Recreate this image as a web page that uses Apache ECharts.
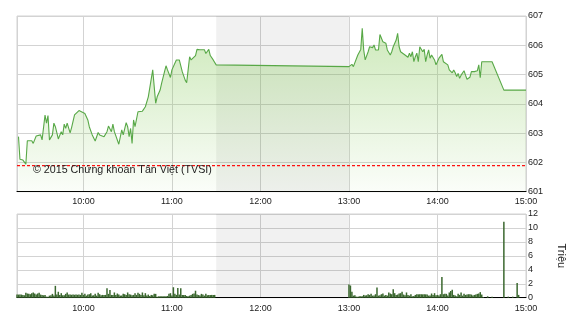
<!DOCTYPE html>
<html><head><meta charset="utf-8">
<script src="https://cdn.jsdelivr.net/npm/echarts@6/dist/echarts.min.js"></script>
<style>html,body{margin:0;padding:0;background:#fff}#c{width:570px;height:320px}</style>
</head><body><div id="c"></div>
<script>
// ---- data ----
const priceTimes = [
"09:16","09:17","09:19","09:21","09:22","09:25","09:26","09:28","09:31","09:32",
"09:33","09:34","09:35","09:36","09:37","09:38","09:39","09:40","09:41","09:43",
"09:44","09:45","09:46","09:47","09:48","09:49","09:51","09:52","09:54","09:57",
"09:59","10:01","10:03","10:04","10:06","10:07","10:08","10:10","10:11","10:14",
"10:16","10:17","10:19","10:20","10:21","10:24","10:26","10:27","10:29","10:30",
"10:31","10:32","10:33","10:34","10:35","10:37","10:38","10:40","10:42","10:44",
"10:45","10:47","10:49","10:50","10:52","10:53","10:55","10:56","10:57","10:59",
"11:00","11:01","11:03","11:05","11:07","11:08","11:09","11:10","11:11","11:12",
"11:13","11:14","11:16","11:17","11:19","11:20","11:22","11:23","11:25","11:26",
"11:28","11:30",
"13:00","13:02","13:03","13:04","13:06","13:08","13:09","13:10","13:11","13:13",
"13:14","13:16","13:17","13:18","13:20","13:21","13:23","13:24","13:25","13:26",
"13:28","13:29","13:30","13:32","13:33","13:34","13:35","13:36","13:38","13:39",
"13:40","13:41","13:42","13:43","13:44","13:45","13:46","13:47","13:48","13:50",
"13:51","13:52","13:53","13:54","13:55","13:56","13:58","13:59","14:01","14:03",
"14:04","14:05","14:07","14:08","14:09","14:10","14:11","14:12","14:13","14:14",
"14:15","14:16","14:18","14:19","14:20","14:21","14:22","14:23","14:25","14:27",
"14:28","14:29","14:30","14:37","14:45","15:00"
];
const priceValues = [
602.88,602.11,602.08,601.94,602.74,602.74,602.65,602.90,602.94,602.77,
602.77,603.62,603.34,603.60,602.77,602.71,602.94,603.34,603.22,602.80,
602.82,603.05,602.94,603.31,603.16,603.34,603.01,603.19,603.62,603.77,
603.72,603.67,603.45,603.22,602.94,603.00,602.73,603.02,602.94,602.88,
603.05,603.24,603.05,603.31,603.05,602.62,603.11,602.94,603.36,603.22,
602.88,603.16,602.65,603.45,603.22,603.73,603.70,603.75,603.90,604.24,
604.30,605.16,604.02,604.24,604.47,604.70,605.10,605.30,605.16,604.90,
605.16,605.10,605.50,605.50,605.10,605.16,604.81,604.72,605.16,605.61,
605.50,605.44,605.65,605.86,605.85,605.80,605.85,605.72,605.86,605.65,
605.50,605.33,
605.27,605.35,605.27,605.24,605.67,605.86,606.58,605.84,605.50,605.78,
605.95,605.92,606.01,605.84,605.84,606.37,606.12,606.07,606.07,605.84,
605.67,605.78,605.95,606.18,606.41,605.95,605.78,605.84,605.67,605.73,
605.59,605.73,605.61,605.78,605.44,605.61,605.73,605.44,605.95,605.78,
605.86,605.44,605.67,605.84,605.56,605.67,605.50,605.33,605.56,605.69,
605.44,605.46,605.33,605.16,605.21,605.06,605.16,605.06,604.93,605.04,
604.87,604.98,605.13,604.98,604.84,604.79,604.91,605.10,605.10,605.13,
605.33,604.89,605.44,605.44,604.47,604.47
];
const refLevel = 601.89;

// volume (millions), one bar per minute from the start time
const volMorningStart = "09:15";
const volMorning = [
0.45,0.45,0.45,0.45,0.4,0.35,0.7,0.6,0.55,0.5,
0.65,0.75,0.6,0.45,0.6,0.7,0.45,0.4,0.35,0.4,
0.15,0.15,0.3,0.35,0.55,0.3,1.7,0.45,0.85,0.4,
0.65,0.35,0.35,0.55,0.75,0.45,0.45,0.42,0.45,0.42,
0.45,0.42,0.45,0.4,0.7,0.4,0.55,0.3,0.45,0.5,
0.65,0.3,0.35,0.55,0.3,0.7,0.5,0.35,0.4,0.38,
0.4,1.35,0.55,1.1,0.4,0.4,0.75,0.4,0.6,0.45,
0.3,0.3,0.55,0.5,0.4,0.75,0.5,0.45,0.35,0.4,
0.65,0.4,0.7,0.55,0.4,0.75,0.35,0.65,0.3,0.45,
0.25,0.4,0.35,0.55,0.55,0.15,0.2,0.2,0.2,0.2,
0.2,0.2,0.25,0.55,0.65,0.3,1.5,0.55,0.4,1.4,
0.45,1.35,0.4,0.38,0.4,0.25,0.2,0.3,0.4,0.55,
0.6,1.0,0.45,0.38,0.3,0.55,0.45,0.3,0.55,0.35,
0.4,0.38,0.4,0.38,0.4
];
const volAfternoonStart = "13:00";
const volAfternoon = [
1.9,1.75,0.85,0.3,0.35,0.15,0.15,0.2,0.2,0.2,
0.4,0.3,0.35,0.5,0.4,0.55,0.3,0.3,0.5,1.45,
0.3,0.35,0.5,0.6,0.3,0.4,0.3,0.75,0.6,0.5,
1.2,0.65,0.4,0.45,0.6,0.65,0.85,0.45,0.35,0.75,
0.4,0.3,0.5,0.2,0.25,0.4,0.48,0.48,0.48,0.48,
0.48,0.48,0.48,0.45,0.3,0.3,0.6,0.4,0.65,0.35,
0.4,0.3,0.5,2.95,0.5,0.55,0.55,0.3,0.75,0.95,
1.15,0.4,0.3,0.2,0.55,0.4,0.75,0.3,0.55,0.4,
0.45,0.5,0.5,0.45,0.3,0.4,0.45,0.55,0.6,0.8,
0.45
];
const volLateTimes = ["14:31","14:34","14:37","14:45","14:48","14:51","14:54","14:55"];
const volLateValues = [0.1,0.2,0.15,10.9,0.15,0.15,2.1,0.4];

const sessionStart = "09:15", sessionEnd = "15:00";
const lunchBreak = ["11:30","13:00"];
const priceAxis = {min: 601, max: 607, step: 1};
const volAxis = {min: 0, max: 12, step: 2};
const volUnit = "Triệu";
const copyright = "© 2015 Chứng khoán Tân Việt (TVSI)";

// ---- build ----
function t(s){const p=s.split(':').map(Number);return new Date(2015,0,5,p[0],p[1]).getTime();}
const priceData = priceTimes.map((s,i)=>[t(s),priceValues[i]]);
const volData = []
  .concat(volMorning.map((v,i)=>[t(volMorningStart)+i*60000,v]))
  .concat(volAfternoon.map((v,i)=>[t(volAfternoonStart)+i*60000,v]))
  .concat(volLateTimes.map((s,i)=>[t(s),volLateValues[i]]));

const FONT = 'Liberation Sans, Arial, sans-serif';
const gridCol = '#d3d3d3';
const lunchArea = {
  silent: true,
  itemStyle: {color: 'rgba(0,0,0,0.055)'},
  data: [[{xAxis: t(lunchBreak[0])},{xAxis: t(lunchBreak[1])}]]
};
function xAxisCfg(gi, margin){
  return {
    type:'time', gridIndex:gi, min:t(sessionStart), max:t(sessionEnd),
    minInterval:3600000, maxInterval:3600000,
    axisLine:{show:true, lineStyle:{color:'#000', width:1}},
    axisTick:{show:false},
    splitLine:{show:true, lineStyle:{color:gridCol, width:1}},
    axisLabel:{fontSize:9, fontFamily:FONT, color:'#222', margin:margin, hideOverlap:false,
      formatter: v => { const d=new Date(v); return String(d.getHours()).padStart(2,'0')+':'+String(d.getMinutes()).padStart(2,'0'); },
      showMinLabel:false, showMaxLabel:true}
  };
}
const chart = echarts.init(document.getElementById('c'), null, {renderer:'canvas'});
chart.setOption({
  animation:false,
  backgroundColor:'#fff',
  grid:[
    {left:17, right:44, top:16, height:175.7, show:true, borderColor:gridCol, borderWidth:1, backgroundColor:'transparent', outerBoundsMode:'none', containLabel:false},
    {left:17, right:44, top:214, height:83.7, show:true, borderColor:gridCol, borderWidth:1, backgroundColor:'transparent', outerBoundsMode:'none', containLabel:false}
  ],
  xAxis:[xAxisCfg(0,5), xAxisCfg(1,6)],
  yAxis:[
    {type:'value', gridIndex:0, position:'right', min:priceAxis.min, max:priceAxis.max, interval:priceAxis.step,
     axisLine:{show:false}, axisTick:{show:false},
     splitLine:{lineStyle:{color:gridCol}},
     axisLabel:{fontSize:9, fontFamily:FONT, color:'#222', margin:2}},
    {type:'value', gridIndex:1, position:'right', min:volAxis.min, max:volAxis.max, interval:volAxis.step,
     axisLine:{show:false}, axisTick:{show:false},
     splitLine:{lineStyle:{color:gridCol}},
     axisLabel:{fontSize:9, fontFamily:FONT, color:'#222', margin:2},
     name:volUnit, nameLocation:'middle', nameRotate:-90, nameGap:30,
     nameTextStyle:{fontSize:11, fontFamily:FONT, color:'#222'}}
  ],
  series:[
    {type:'line', xAxisIndex:0, yAxisIndex:0, data:priceData, showSymbol:false, symbol:'none',
     lineStyle:{color:'#58a847', width:1.1},
     areaStyle:{origin:'start', color:new echarts.graphic.LinearGradient(0,0,0,1,[
       {offset:0,color:'rgba(135,202,90,0.58)'},{offset:1,color:'rgba(135,202,90,0.05)'}])},
     markArea:lunchArea
    },
    {type:'line', xAxisIndex:0, yAxisIndex:0, z:4, silent:true, symbol:'none', showSymbol:false,
     data:[[t(sessionStart),refLevel],[t(sessionEnd),refLevel]],
     itemStyle:{color:'#ff1010'},
     lineStyle:{color:'#ff1010', type:[3,2], width:1.2}},
    {type:'line', xAxisIndex:1, yAxisIndex:1, data:[[t(sessionStart),0]], symbol:'none',
     lineStyle:{opacity:0}, markArea:lunchArea, silent:true},
    {type:'custom', xAxisIndex:1, yAxisIndex:1, data:volData, encode:{x:0, y:1}, z:3,
     renderItem:(params, api) => {
       const base = api.coord([api.value(0), 0]);
       const top = api.coord([api.value(0), api.value(1)]);
       return {type:'rect', shape:{x:base[0]-0.75, y:top[1], width:1.5, height:base[1]-top[1]},
               style:{fill:'#3b682f'}};
     }}
  ],
  graphic:[
    {type:'text', x:33, y:170, z:100, style:{text:copyright, font:'10.7px '+FONT, fill:'#222', verticalAlign:'middle'}}
  ]
});
</script></body></html>
